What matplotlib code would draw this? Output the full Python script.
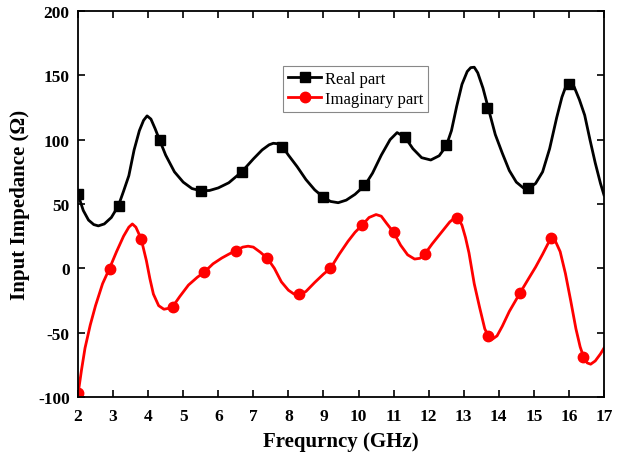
import numpy as np
import matplotlib
matplotlib.use('Agg')
import matplotlib.pyplot as plt

# Real part: curve
real_f = [2.0, 2.15, 2.3, 2.45, 2.58, 2.75, 2.95, 3.15, 3.3, 3.45, 3.6, 3.75, 3.87, 3.97,
          4.08, 4.2, 4.33, 4.5, 4.75, 5.0, 5.25, 5.5, 5.75, 6.0, 6.3, 6.67, 7.0, 7.25,
          7.45, 7.57, 7.7, 7.84, 8.0, 8.25, 8.5, 8.75, 9.0, 9.2, 9.42, 9.65, 9.9, 10.18,
          10.4, 10.65, 10.9, 11.1, 11.33, 11.55, 11.8, 12.06, 12.3, 12.5, 12.65, 12.8,
          12.95, 13.1, 13.2, 13.3, 13.4, 13.55, 13.7, 13.9, 14.1, 14.3, 14.5, 14.7,
          14.87, 15.05, 15.25, 15.45, 15.65, 15.8, 15.92, 16.03, 16.15, 16.3, 16.45,
          16.6, 16.75, 16.9, 17.0]
real_z = [57.5, 45, 37.5, 34, 33, 34.5, 39.5, 48.5, 60, 72, 92, 107, 115, 118.5,
          116, 108.5, 99.5, 88, 75, 67, 62, 60.3, 60.5, 62.5, 66.5, 75, 85, 92,
          96, 97.2, 96.8, 94.2, 88, 79, 69, 61, 55.2, 52, 51, 53, 57.5, 64.5,
          74, 88, 100, 105.5, 101.8, 93, 86, 84.2, 87.5, 95, 107, 126,
          143, 153, 156, 156.3, 152, 140, 124.5, 104, 89.5, 76, 67, 62.5,
          62.4, 66, 75, 93, 117, 133, 142, 145.5, 141, 131, 119,
          100, 82, 66, 57]
real_mf = [2.0, 3.17, 4.33, 5.5, 6.67, 7.83, 9.0, 10.17, 11.33, 12.5, 13.67, 14.83, 16.0]
real_mz = [57.7, 48.6, 99.7, 60.3, 75.2, 94.3, 55.2, 64.5, 101.8, 95.9, 124.5, 62.4, 143.5]

# Imaginary part
imag_f = [2.0, 2.1, 2.2, 2.35, 2.5, 2.7, 2.9, 3.1, 3.3, 3.45, 3.55, 3.65, 3.8, 3.95,
          4.05, 4.15, 4.3, 4.45, 4.6, 4.7, 4.9, 5.15, 5.4, 5.6, 5.85, 6.1, 6.3, 6.5,
          6.7, 6.85, 7.0, 7.2, 7.4, 7.6, 7.8, 8.0, 8.15, 8.3, 8.5, 8.75, 9.0, 9.2,
          9.45, 9.7, 9.9, 10.1, 10.3, 10.5, 10.65, 10.8, 11.0, 11.2, 11.4, 11.6,
          11.75, 11.9, 12.1, 12.35, 12.6, 12.75, 12.85, 12.95, 13.05, 13.15, 13.3,
          13.45, 13.6, 13.7, 13.82, 13.95, 14.1, 14.3, 14.6, 14.85, 15.05, 15.25,
          15.4, 15.5, 15.6, 15.75, 15.9, 16.05, 16.2, 16.32, 16.42, 16.52, 16.62,
          16.75, 16.9, 17.0]
imag_z = [-98, -79, -62, -44, -29, -12, 0, 13, 25, 32, 34.5, 32, 23, 6,
          -8, -20, -29, -31.8, -31, -29.8, -22, -13, -7, -3, 3.5, 8, 11, 13.8,
          16.5, 17.2, 16.5, 12.5, 7.8, 0, -10.5, -17, -19.8, -20.3, -18, -11, -4.5, 0,
          11, 21, 28, 33.5, 39.5, 41.8, 40.5, 35, 28, 18, 10.5, 7.2,
          7.8, 11.5, 19, 27.5, 36, 39.5, 38.5, 33.5, 24, 12, -12,
          -30, -47, -52.5, -55, -52.5, -45, -33.5, -19.4, -8, 1, 11,
          19, 23, 22, 13, -4, -25, -47, -61, -69, -73.5, -74.5,
          -72, -66.5, -62]
imag_mf = [2.0, 2.9, 3.8, 4.7, 5.6, 6.5, 7.4, 8.3, 9.2, 10.1, 11.0, 11.9, 12.8, 13.7,
           14.6, 15.5, 16.4]
imag_mz = [-97, -0.5, 22.8, -29.8, -3.1, 13.7, 7.8, -20, 0, 33.6, 28, 11.4, 38.8,
           -52.4, -19.4, 23.3, -68.7]

xticks = list(range(2, 18))
yticks = [-100, -50, 0, 50, 100, 150, 200]

plt.rcParams['font.family'] = ['Liberation Serif', 'DejaVu Serif']
plt.rcParams['axes.unicode_minus'] = False

fig = plt.figure(figsize=(6.21, 4.60), dpi=100)
ax = fig.add_axes([0.1256, 0.1348, 0.8470, 0.8391])

ax.plot(real_f, real_z, color='black', lw=2.0)
ax.plot(real_mf, real_mz, ls='none', marker='s', ms=6.5, color='black')
ax.plot(imag_f, imag_z, color='#ff0000', lw=2.0)
ax.plot(imag_mf, imag_mz, ls='none', marker='o', ms=7.5, color='#ff0000')

# legend proxies (line + marker)
ax.plot([], [], color='black', lw=2.0, marker='s', ms=6.5, label='Real part')
ax.plot([], [], color='#ff0000', lw=2.0, marker='o', ms=7.5, label='Imaginary part')
handles, labels = ax.get_legend_handles_labels()
leg = ax.legend(handles, labels, loc='upper left', bbox_to_anchor=(0.39, 0.858),
                frameon=True, fancybox=False, framealpha=1, edgecolor='#888888',
                fontsize=12, handlelength=2.0, handletextpad=0.2, borderpad=0.3,
                labelspacing=0.25, borderaxespad=0)
leg.get_frame().set_linewidth(0.8)

ax.set_xlim(2, 17)
ax.set_ylim(-100, 200)
ax.set_xticks(xticks)
ax.set_yticks(yticks)
ax.tick_params(direction='in', top=True, right=True, length=5, width=1.2,
               labelsize=12.5)
ax.tick_params(axis='x', pad=8)
ax.tick_params(axis='y', pad=6)
for lab in ax.get_xticklabels() + ax.get_yticklabels():
    lab.set_fontweight('bold')
for sp in ax.spines.values():
    sp.set_linewidth(1.3)

ax.set_xlabel('Frequrncy (GHz)', fontsize=15, fontweight='bold', labelpad=5)
ax.set_ylabel('Input Impedance (\u03a9)', fontsize=15, fontweight='bold', labelpad=6)

fig.savefig('out.png', dpi=100)
